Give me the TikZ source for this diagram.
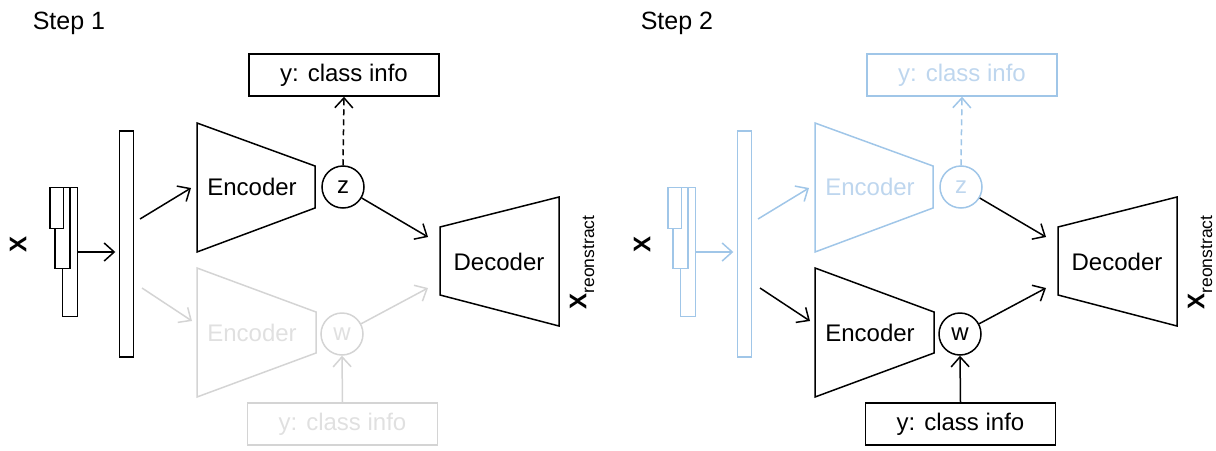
\documentclass[tikz,border=0pt]{standalone}
\usepackage{fontspec}
\setmainfont{Liberation Sans}
\usetikzlibrary{arrows.meta}
\definecolor{gry}{RGB}{212,212,212}
\definecolor{gtx}{RGB}{224,224,224}
\definecolor{blu}{RGB}{160,198,232}
\definecolor{btx}{RGB}{190,214,238}
\newcommand\drawpanel[1]{%
  % input strips
  \node[strip, draw=inc, minimum width=15.4pt, minimum height=129.4pt] (#1rc) at (70,252) {};
  \node[strip, draw=inc, minimum width=15pt, minimum height=81pt] (#1rb) at (62.5,227.8) {};
  \node[strip, draw=inc, minimum width=13.3pt, minimum height=41pt] (#1ra) at (56.65,207.8) {};
  \node[strip, draw=inc, minimum width=14pt, minimum height=226pt] (#1bar) at (126.3,244) {};
  \draw[arr, inc, shorten >=4pt] (#1rc.east) -- (#1rc.east -| #1bar.west);
  % top encoder
  \draw[inc, line join=miter] (197,123) -- (315,166) -- (315,208) -- (197,252) -- cycle;
  \node[lbl, text=inct] (#1enct) at (252,187) {Encoder};
  \coordinate (#1a1) at (140,219);
  \coordinate (#1a2) at (191,188);
  \draw[arr, inc] (#1a1) -- (#1a2);
  \node[latent, draw=inc, text=inct] (#1z) at (343,187) {z};
  \node[infobox, draw=inc, text=inct] (#1yt) at (344,75) {y: class info};
  \draw[arr, inc, dashed, dash pattern=on 6pt off 4pt] (#1z.north) -- (#1yt.south);
  % bottom encoder
  \draw[botc, line join=miter] (197,268) -- (316,312) -- (316,353) -- (197,397) -- cycle;
  \node[lbl, text=bott] (#1encb) at (252,333) {Encoder};
  \coordinate (#1b1) at (142,288);
  \coordinate (#1b2) at (192,321);
  \draw[arr, bina] (#1b1) -- (#1b2);
  \node[latent, draw=botc, text=bott] (#1w) at (342,334) {w};
  \node[infobox, draw=botc, text=bott] (#1yb) at (342.5,424) {y: class info};
  \draw[arr, botc] (#1yb.north) -- (#1w.south);
  % decoder
  \draw[line join=miter] (440,227) -- (559,197) -- (559,326) -- (440,295) -- cycle;
  \node[lbl] (#1dec) at (499,262) {Decoder};
  \coordinate (#1din1) at (428,237);
  \coordinate (#1din2) at (428,288);
  \draw[arr, zdc] (#1z) -- (#1din1);
  \draw[arr, botc] (#1w) -- (#1din2);
  \node[rotate=90, inner sep=0pt, font=\fontsize{24}{24}\selectfont] (#1xr) at (582,262.5)
    {\textbf{X}\raisebox{-0.32em}{\fontsize{17.5}{18}\selectfont reonstract}};
}
\begin{document}
\begin{tikzpicture}[x=1pt, y=-1pt, line width=1.5pt,
  arr/.style={-{Straight Barb[length=10pt,width=18pt]}},
  lbl/.style={inner sep=0pt, font=\fontsize{24}{28}\selectfont},
  strip/.style={rectangle, fill=white, inner sep=0pt, outer sep=0pt},
  latent/.style={circle, draw, inner sep=0pt, minimum size=42pt, font=\fontsize{24}{28}\selectfont},
  infobox/.style={rectangle, draw, inner sep=0pt, minimum width=190pt, minimum height=42pt, font=\fontsize{24}{28}\selectfont}]
\useasboundingbox (0,0) rectangle (1216,450);
\node[anchor=base west, inner sep=0pt, font=\fontsize{25}{28}\selectfont] (s1) at (32,29.5) {Step 1};
\node[anchor=base west, inner sep=0pt, font=\fontsize{25}{28}\selectfont] (s2) at (640,29.5) {Step 2};
\node[rotate=90, inner sep=0pt, font=\fontsize{24}{24}\selectfont\bfseries] (x1) at (18,244.5) {X};
\node[rotate=90, inner sep=0pt, font=\fontsize{24}{24}\selectfont\bfseries] (x2) at (642,244.5) {X};
\colorlet{inc}{black}\colorlet{inct}{black}\colorlet{botc}{gry}\colorlet{bott}{gtx}\colorlet{bina}{gry}\colorlet{zdc}{black}
\begin{scope}
\drawpanel{p}
\end{scope}
\colorlet{inc}{blu}\colorlet{inct}{btx}\colorlet{botc}{black}\colorlet{bott}{black}\colorlet{bina}{black}\colorlet{zdc}{black}
\begin{scope}[shift={(618,0)}]
\drawpanel{q}
\end{scope}
\end{tikzpicture}
\end{document}
